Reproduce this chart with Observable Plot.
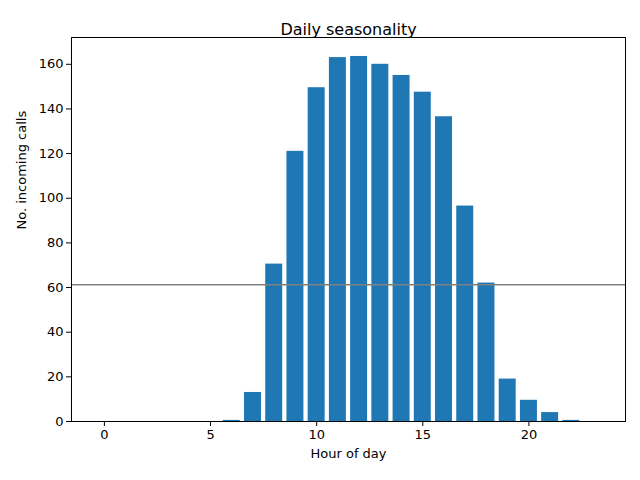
<!DOCTYPE html>
<html><head>
<script src="https://cdn.jsdelivr.net/npm/d3@7"></script>
<script src="https://cdn.jsdelivr.net/npm/@observablehq/plot@0.6"></script>
<style>body{margin:0;background:#fff;} svg{font-family:"DejaVu Sans",sans-serif;}</style>
</head><body><div id="chart"></div>
<script>
const hours = d3.range(0, 24);
const calls = [0,0,0,0,0,0,0.5,13,70.5,121,149.5,163,163.5,160,155,147.5,136.5,96.5,62,19,9.5,4,0.5,0];
const meanCalls = 61.3;
const data = hours.map((h, i) => ({hour: h, calls: calls[i]}));

const chart = Plot.plot({
  width: 640, height: 480,
  marginLeft: 71, marginRight: 15, marginTop: 37, marginBottom: 59,
  style: {fontSize: "13px", fontFamily: "DejaVu Sans", color: "#000", background: "#fff"},
  x: {domain: [-1.55, 24.55], ticks: [0,5,10,15,20], tickSize: 5, label: null},
  y: {domain: [0, 172], ticks: d3.range(0, 161, 20), tickSize: 5, label: null},
  marks: [
    Plot.rectY(data, {x1: d => d.hour - 0.4, x2: d => d.hour + 0.4, y: "calls", fill: "#1f77b4"}),
    Plot.ruleY([meanCalls], {stroke: "#808080", strokeWidth: 1.5}),
    Plot.axisX({ticks: [0,5,10,15,20], tickSize: 5, tickPadding: 3}),
    Plot.axisY({ticks: d3.range(0, 161, 20), tickSize: 5, tickPadding: 3}),
    Plot.frame({stroke: "#000"}),
    Plot.text(["Daily seasonality"], {frameAnchor: "top", dy: -14, fontSize: 16}),
    Plot.text(["Hour of day"], {frameAnchor: "bottom", dy: 36, fontSize: 13}),
    Plot.text(["No. incoming calls"], {frameAnchor: "left", dx: -50, rotate: -90, fontSize: 13})
  ]
});
document.getElementById("chart").append(chart);
</script>
</body></html>
